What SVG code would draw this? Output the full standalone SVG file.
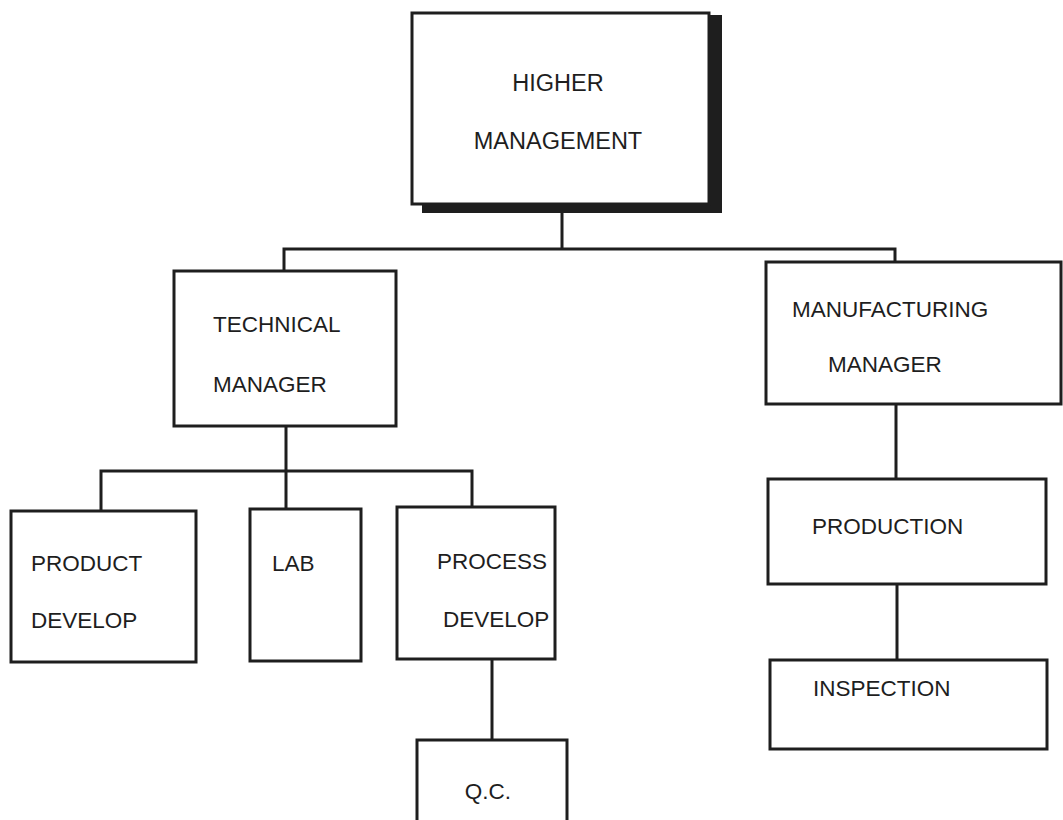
<svg xmlns="http://www.w3.org/2000/svg" width="1063" height="820" viewBox="0 0 1063 820">
  <style>
    .box { fill: #ffffff; stroke: #1e1e1e; stroke-width: 3; }
    .shadow { fill: #1e1e1e; }
    .link { fill: none; stroke: #1e1e1e; stroke-width: 3; }
    .label { font-family: "Liberation Sans", Arial, Helvetica, sans-serif; font-size: 22.5px; fill: #1e1e1e; }
  </style>
  <rect width="1063" height="820" fill="#ffffff"/>

  <!-- connectors -->
  <g id="connectors">
    <!-- higher management to both managers -->
    <path class="link" d="M562,204 V249 M284,271 V249 H895 V262"/>
    <!-- technical manager to its three sections -->
    <path class="link" d="M286,426 V471 M101,511 V471 H472 V507 M286,471 V509"/>
    <!-- process develop to Q.C. -->
    <path class="link" d="M492,660 V740"/>
    <!-- manufacturing chain -->
    <path class="link" d="M896,404 V479 M897,584 V660"/>
  </g>

  <g id="higher-management">
    <rect class="shadow" x="422" y="15" width="300" height="198"/>
    <rect class="box" x="412" y="13" width="297" height="191"/>
    <text class="label" x="558" y="91" text-anchor="middle" style="font-size:23.5px">HIGHER</text>
    <text class="label" x="558" y="149" text-anchor="middle" style="font-size:23.5px">MANAGEMENT</text>
  </g>

  <g id="technical-manager">
    <rect class="box" x="174" y="271" width="222" height="155"/>
    <text class="label" x="213" y="332">TECHNICAL</text>
    <text class="label" x="213" y="392">MANAGER</text>
  </g>

  <g id="manufacturing-manager">
    <rect class="box" x="766" y="262" width="295" height="142"/>
    <text class="label" x="792" y="317">MANUFACTURING</text>
    <text class="label" x="828" y="372">MANAGER</text>
  </g>

  <g id="product-develop">
    <rect class="box" x="11" y="511" width="185" height="151"/>
    <text class="label" x="31" y="571">PRODUCT</text>
    <text class="label" x="31" y="628">DEVELOP</text>
  </g>

  <g id="lab">
    <rect class="box" x="250" y="509" width="111" height="152"/>
    <text class="label" x="272" y="571">LAB</text>
  </g>

  <g id="process-develop">
    <rect class="box" x="397" y="507" width="158" height="152"/>
    <text class="label" x="437" y="569">PROCESS</text>
    <text class="label" x="443" y="627">DEVELOP</text>
  </g>

  <g id="qc">
    <rect class="box" x="417" y="740" width="150" height="100"/>
    <text class="label" x="488" y="799" text-anchor="middle">Q.C.</text>
  </g>

  <g id="production">
    <rect class="box" x="768" y="479" width="278" height="105"/>
    <text class="label" x="812" y="534">PRODUCTION</text>
  </g>

  <g id="inspection">
    <rect class="box" x="770" y="660" width="277" height="89"/>
    <text class="label" x="813" y="696">INSPECTION</text>
  </g>
</svg>
